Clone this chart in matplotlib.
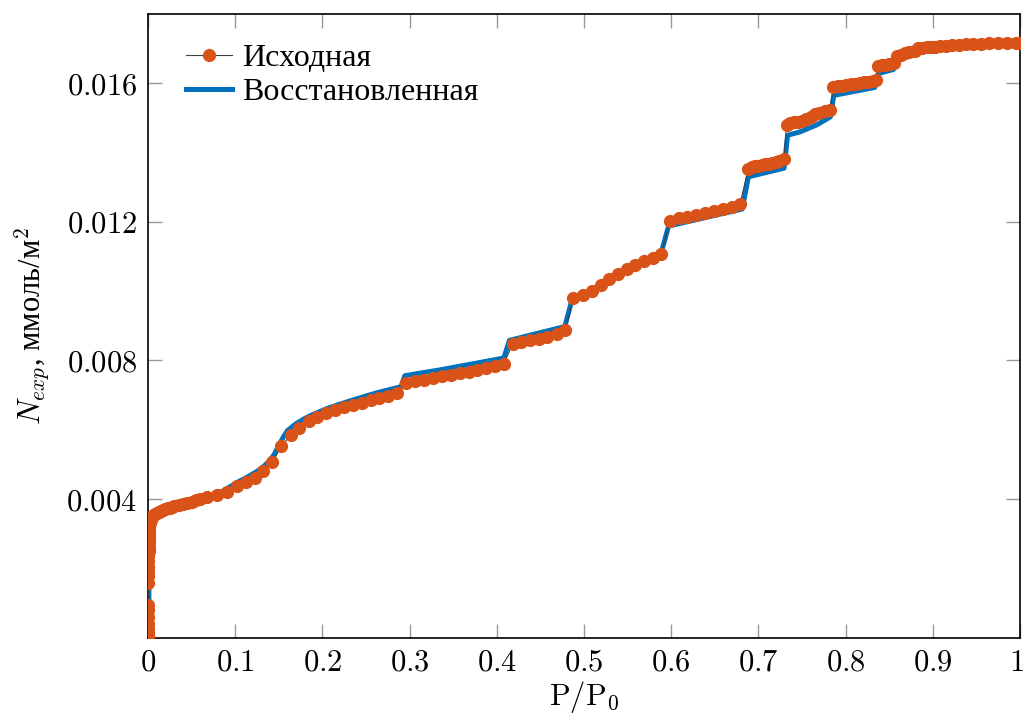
import matplotlib
matplotlib.use('Agg')
import matplotlib.pyplot as plt
import matplotlib.transforms as mtransforms

# fonts: Cyrillic text from a serif font, numbers and symbols in Computer Modern
plt.rcParams['font.family'] = ['Liberation Serif', 'DejaVu Serif']
plt.rcParams['mathtext.fontset'] = 'cm'

# original isotherm (points)
p_orig = [0.0, 0.0, 0.0001, 0.0001, 0.0001, 0.0001, 0.0002, 0.0002, 0.0002, 0.0003,
          0.0003, 0.0004, 0.0004, 0.0005, 0.0005, 0.0006, 0.0007, 0.0008, 0.0009, 0.0010,
          0.0012, 0.0014, 0.0017, 0.0020, 0.0025, 0.0030, 0.0040, 0.0050, 0.0065, 0.0080,
          0.0100, 0.0125, 0.0150, 0.0175, 0.0200, 0.0225, 0.0250, 0.0275, 0.0300, 0.0350,
          0.0400, 0.0450, 0.0500, 0.0550, 0.0600, 0.0680, 0.0790,
          0.0902, 0.1017, 0.1124, 0.1223, 0.1323, 0.1426, 0.1529, 0.1636, 0.1736, 0.1843,
          0.1942, 0.2041, 0.2144, 0.2248, 0.2347, 0.2450, 0.2553, 0.2653, 0.2756, 0.2859,
          0.2959, 0.3062, 0.3165, 0.3265, 0.3368, 0.3471, 0.3578, 0.3677, 0.3777, 0.3876,
          0.3979, 0.4079,
          0.4182, 0.4278, 0.4380, 0.4480, 0.4580, 0.4687, 0.4786,
          0.4878, 0.4985, 0.5092, 0.5191, 0.5291, 0.5390, 0.5490, 0.5589, 0.5688, 0.5788, 0.5887,
          0.5986, 0.6086, 0.6185, 0.6284, 0.6388, 0.6491, 0.6590, 0.6694, 0.6789,
          0.6884, 0.6925, 0.6960, 0.7000, 0.7040, 0.7080, 0.7120, 0.7160, 0.7200, 0.7240, 0.7294,
          0.7323, 0.7365, 0.7410, 0.7455, 0.7500, 0.7550, 0.7600, 0.7650, 0.7700, 0.7760, 0.7820,
          0.7860, 0.7910, 0.7960, 0.8010, 0.8060, 0.8110, 0.8160, 0.8210, 0.8260, 0.8310, 0.8350,
          0.8375, 0.8420, 0.8460, 0.8500, 0.8550,
          0.8585, 0.8630, 0.8680, 0.8730, 0.8796,
          0.8834, 0.8880, 0.8930, 0.8980, 0.9030, 0.9080, 0.9150, 0.9220, 0.9300, 0.9380,
          0.9460, 0.9550, 0.9650, 0.9750, 0.9850, 0.9950, 1.0]
n_orig = [0.00000, 0.00003, 0.00008, 0.00015, 0.00025, 0.00040, 0.00060, 0.00080, 0.00095, 0.00157,
          0.00178, 0.00192, 0.00205, 0.00220, 0.00235, 0.00250, 0.00263, 0.00275, 0.00286, 0.00296,
          0.00305, 0.00314, 0.00322, 0.00330, 0.00336, 0.00341, 0.00346, 0.00350, 0.00353, 0.00356,
          0.00359, 0.00362, 0.00365, 0.00368, 0.00370, 0.00373, 0.00375, 0.00377, 0.00379, 0.00383,
          0.00387, 0.00390, 0.00393, 0.00396, 0.00400, 0.00406, 0.00413,
          0.00421, 0.00438, 0.00450, 0.00462, 0.00480, 0.00506, 0.00552, 0.00584, 0.00606, 0.00624,
          0.00637, 0.00648, 0.00656, 0.00666, 0.00672, 0.00678, 0.00685, 0.00692, 0.00698, 0.00705,
          0.00736, 0.00740, 0.00745, 0.00750, 0.00754, 0.00759, 0.00763, 0.00768, 0.00773, 0.00778,
          0.00785, 0.00790,
          0.00847, 0.00853, 0.00858, 0.00862, 0.00868, 0.00876, 0.00888,
          0.00980, 0.00989, 0.01001, 0.01018, 0.01034, 0.01051, 0.01064, 0.01077, 0.01088, 0.01097, 0.01107,
          0.01203, 0.01210, 0.01215, 0.01220, 0.01225, 0.01230, 0.01236, 0.01243, 0.01251,
          0.01354, 0.01358, 0.01360, 0.01362, 0.01364, 0.01366, 0.01368, 0.01371, 0.01374, 0.01377, 0.01381,
          0.01481, 0.01484, 0.01487, 0.01489, 0.01492, 0.01498, 0.01504, 0.01510, 0.01514, 0.01519, 0.01523,
          0.01589, 0.01591, 0.01593, 0.01595, 0.01597, 0.01599, 0.01601, 0.01603, 0.01605, 0.01607, 0.01610,
          0.01649, 0.01652, 0.01654, 0.01656, 0.01659,
          0.01680, 0.01683, 0.01686, 0.01689, 0.01692,
          0.01702, 0.01703, 0.01704, 0.01705, 0.01706, 0.01708, 0.01709, 0.01710, 0.01711, 0.01713,
          0.01714, 0.01714, 0.01715, 0.01715, 0.01716, 0.01716, 0.01716]

# reconstructed isotherm (line)
p_rec = [0.001, 0.001, 0.0015, 0.003, 0.006, 0.01, 0.02, 0.03, 0.05, 0.07,
         0.085, 0.095, 0.105, 0.115, 0.125, 0.133, 0.140, 0.145, 0.150, 0.155,
         0.160, 0.170, 0.180, 0.190, 0.205, 0.220, 0.240, 0.260, 0.280, 0.2900,
         0.2945, 0.335, 0.408, 0.4145, 0.478, 0.4865, 0.500, 0.520, 0.540, 0.560,
         0.575, 0.589, 0.597, 0.6815, 0.6885, 0.7295, 0.7335, 0.748, 0.767, 0.7825,
         0.7865, 0.8335, 0.8375, 0.855, 0.8585, 0.880, 0.900, 0.930, 0.960, 1.0]
n_rec = [0.0, 0.0025, 0.0031, 0.0034, 0.0035, 0.00358, 0.0037, 0.00379, 0.00394, 0.00408,
         0.00422, 0.00437, 0.00452, 0.00465, 0.00480, 0.00495, 0.00512, 0.00530, 0.00555, 0.00578,
         0.00598, 0.00618, 0.00633, 0.00645, 0.00661, 0.00674, 0.00690, 0.00705, 0.00718, 0.00724,
         0.00756, 0.00773, 0.00807, 0.00858, 0.00898, 0.00978, 0.00989, 0.01020, 0.01052, 0.01078,
         0.01094, 0.01115, 0.01188, 0.01237, 0.01330, 0.01355, 0.01450, 0.01460, 0.01480, 0.01503,
         0.01565, 0.01588, 0.01628, 0.01640, 0.01672, 0.01688, 0.01700, 0.01707, 0.01712, 0.01714]

x_ticks = [0, 0.1, 0.2, 0.3, 0.4, 0.5, 0.6, 0.7, 0.8, 0.9, 1]
x_labels = ['0', '0.1', '0.2', '0.3', '0.4', '0.5', '0.6', '0.7', '0.8', '0.9', '1']
y_ticks = [0.004, 0.008, 0.012, 0.016]
y_labels = ['0.004', '0.008', '0.012', '0.016']

fig = plt.figure(figsize=(10.25, 7.2), dpi=100)
ax = fig.add_axes([0.1444, 0.1143, 0.8507, 0.8663])

l_rec, = ax.plot(p_rec, n_rec, color='#0072BD', linewidth=3.6, zorder=2)
l_orig, = ax.plot(p_orig, n_orig, color='#404040', linewidth=0.8, marker='o',
                  markersize=8.5, markerfacecolor='#D95319', markeredgecolor='#D95319', zorder=3)

ax.set_xlim(0, 1)
ax.set_ylim(0, 0.018)
ax.set_xticks(x_ticks)
ax.set_xticklabels(['$' + s + '$' for s in x_labels])
ax.set_yticks(y_ticks)
ax.set_yticklabels(['$' + s + '$' for s in y_labels])
ax.tick_params(direction='in', length=10, width=1, color='#999999', labelsize=22,
               top=True, right=True, pad=8)
for s in ax.spines.values():
    s.set_linewidth(1.2)

# keep the last x label ("1") inside the figure edge
last = ax.get_xticklabels()[-1]
last.set_transform(last.get_transform() +
                   mtransforms.ScaledTranslation(-4 / 100, 0, fig.dpi_scale_trans))

ax.set_xlabel(r'$\mathrm{P/P_0}$', fontsize=22, labelpad=1)
ax.set_ylabel(r'$N_{exp}$, ммоль/м$^2$', fontsize=22, labelpad=10)

ax.legend([l_orig, l_rec], ['Исходная', 'Восстановленная'], loc='upper left',
          bbox_to_anchor=(0.018, 0.988), frameon=False, fontsize=23,
          handlelength=1.45, handletextpad=0.3, labelspacing=0.15, borderaxespad=0.3)

fig.savefig('out.png', dpi=100)
